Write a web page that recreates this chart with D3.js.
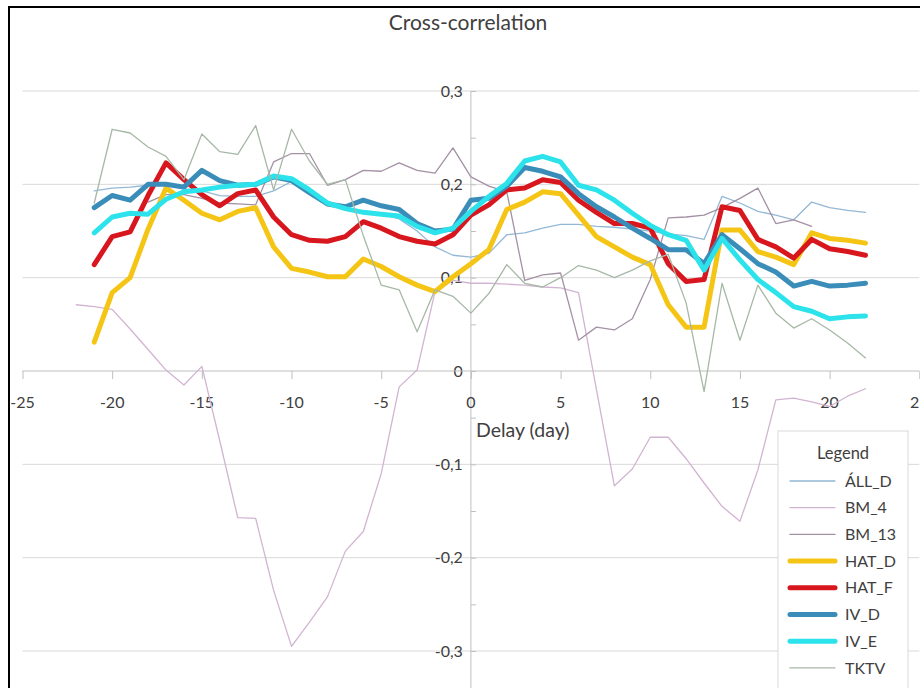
<!DOCTYPE html>
<html>
<head>
<meta charset="utf-8">
<script src="https://cdn.jsdelivr.net/npm/d3@7"></script>
<style>
  html, body { margin: 0; padding: 0; background: #fff; }
  svg text { font-family: Lato, "Open Sans", sans-serif; fill: #404040; }
</style>
</head>
<body>
<svg id="chart" width="920" height="688"></svg>
<script>
// Delay in days (x categories), -22 .. 22
const days = [-22,-21,-20,-19,-18,-17,-16,-15,-14,-13,-12,-11,-10,-9,-8,-7,-6,-5,-4,-3,-2,-1,
  0,1,2,3,4,5,6,7,8,9,10,11,12,13,14,15,16,17,18,19,20,21,22];

// Cross-correlation per series, aligned with `days` (null = no value)
const ALL_D = [null,0.193,0.196,0.197,0.199,0.200,0.195,0.193,0.188,0.187,0.187,0.193,0.203,0.195,0.180,0.175,0.170,0.168,0.163,0.150,0.133,0.124,
  0.122,0.126,0.146,0.148,0.153,0.157,0.157,0.155,0.154,0.152,0.150,0.147,0.145,0.141,0.187,0.180,0.171,0.167,0.162,0.181,0.175,0.172,0.170];
const BM_4 = [0.071,0.069,0.066,0.045,0.023,0.001,-0.015,0.005,-0.075,-0.157,-0.158,-0.235,-0.295,-0.269,-0.242,-0.193,-0.172,-0.110,-0.017,0.001,0.085,0.097,
  0.094,0.094,0.093,0.092,0.090,0.089,0.084,-0.020,-0.123,-0.105,-0.071,-0.071,-0.094,-0.120,-0.145,-0.161,-0.106,-0.031,-0.029,-0.033,-0.038,-0.027,-0.019];
const BM_13 = [null,null,null,null,0.181,0.189,0.189,0.185,0.180,0.179,0.178,0.224,0.233,0.233,0.199,0.205,0.215,0.214,0.223,0.215,0.212,0.239,
  0.208,0.198,0.192,0.097,0.103,0.105,0.033,0.047,0.044,0.056,0.098,0.164,0.165,0.167,0.175,0.185,0.196,0.158,0.162,0.155,null,null,null];
const HAT_D = [null,0.031,0.084,0.100,0.152,0.196,0.183,0.169,0.162,0.171,0.175,0.133,0.110,0.106,0.101,0.101,0.120,0.112,0.101,0.092,0.085,0.101,
  0.115,0.130,0.173,0.181,0.192,0.190,0.167,0.144,0.133,0.122,0.114,0.071,0.047,0.047,0.151,0.151,0.128,0.122,0.114,0.148,0.142,0.140,0.137];
const HAT_F = [null,0.114,0.144,0.149,0.188,0.223,0.205,0.189,0.177,0.190,0.194,0.165,0.146,0.140,0.139,0.144,0.160,0.153,0.144,0.139,0.136,0.146,
  0.167,0.178,0.194,0.196,0.205,0.202,0.183,0.170,0.158,0.158,0.153,0.115,0.096,0.098,0.176,0.172,0.141,0.133,0.121,0.141,0.131,0.128,0.124];
const IV_D = [null,0.175,0.188,0.183,0.200,0.200,0.197,0.215,0.204,0.199,0.200,0.208,0.204,0.191,0.179,0.176,0.183,0.177,0.173,0.158,0.150,0.152,
  0.183,0.185,0.198,0.218,0.214,0.208,0.190,0.176,0.165,0.153,0.142,0.130,0.130,0.115,0.146,0.131,0.115,0.106,0.091,0.096,0.091,0.092,0.094];
const IV_E = [null,0.148,0.165,0.169,0.168,0.184,0.192,0.194,0.197,0.199,0.200,0.209,0.206,0.194,0.180,0.174,0.170,0.168,0.166,0.155,0.148,0.153,
  0.171,0.187,0.201,0.225,0.230,0.224,0.199,0.194,0.183,0.169,0.156,0.146,0.140,0.108,0.142,0.119,0.098,0.084,0.069,0.064,0.056,0.058,0.059];
const TKTV = [null,0.180,0.259,0.255,0.240,0.230,0.205,0.254,0.235,0.232,0.263,0.194,0.259,0.225,0.200,0.205,0.145,0.092,0.087,0.042,0.087,0.080,
  0.062,0.083,0.114,0.094,0.090,0.100,0.113,0.108,0.100,0.108,0.118,0.125,0.073,-0.022,0.094,0.033,0.092,0.062,0.046,0.056,0.044,0.030,0.014];

const seriesNames = ["ÁLL_D","BM_4","BM_13","HAT_D","HAT_F","IV_D","IV_E","TKTV"];
const seriesValues = [ALL_D, BM_4, BM_13, HAT_D, HAT_F, IV_D, IV_E, TKTV];
const seriesColors = ["#93b8d6","#d2b4d2","#a391a4","#f5c516","#d8161d","#3a8db8","#2ce3ec","#a7b8a7"];
const seriesWidths = [1.3,1.3,1.3,5,5,5,5,1.3];

const xTicks = [-25,-20,-15,-10,-5,0,5,10,15,20,25];
const yTicks = [-0.3,-0.2,-0.1,0,0.1,0.2,0.3];
const yLabels = ["-0,3","-0,2","-0,1","0","0,1","0,2","0,3"];

const svg = d3.select("#chart");

// chart frame
svg.append("rect").attr("x", 9).attr("y", 7).attr("width", 930).attr("height", 700)
  .attr("fill", "#fff").attr("stroke", "#000").attr("stroke-width", 2);

const x = d3.scaleLinear().domain([-25, 25]).range([22.5, 919.3]);
const y = d3.scaleLinear().domain([-0.3, 0.3]).range([651, 91]);

// title
svg.append("text").attr("x", 468).attr("y", 30).attr("text-anchor", "middle")
  .style("font-size", "21px").text("Cross-correlation");

// horizontal gridlines
svg.append("g").selectAll("line").data(yTicks.filter(v => v !== 0)).join("line")
  .attr("x1", x(-25)).attr("x2", x(25))
  .attr("y1", d => y(d)).attr("y2", d => y(d))
  .attr("stroke", "#d9d9d9").attr("stroke-width", 1);

// y axis through x = 0
const yAxis = d3.axisRight(y).tickValues(d3.range(-0.35, 0.31, 0.05)).tickSize(5).tickFormat("");
const gy = svg.append("g").attr("transform", `translate(${x(0)},0)`).call(yAxis);
gy.select(".domain").remove();
gy.selectAll(".tick line").attr("stroke", "#bfbfbf");
svg.append("line").attr("x1", x(0)).attr("x2", x(0)).attr("y1", y(0.3)).attr("y2", 700)
  .attr("stroke", "#bfbfbf");
svg.append("g").selectAll("text").data(yTicks).join("text")
  .attr("x", x(0) - 8).attr("y", d => y(d)).attr("dy", "0.35em")
  .attr("text-anchor", "end").style("font-size", "16px")
  .text((d, i) => yLabels[i]);

// x axis through y = 0
const xAxis = d3.axisBottom(x).tickValues(xTicks).tickSize(8).tickFormat("");
const gx = svg.append("g").attr("transform", `translate(0,${y(0)})`).call(xAxis);
gx.select(".domain").attr("stroke", "#bfbfbf").attr("d", `M${x(-25)},0H${x(25)}`);
gx.selectAll(".tick line").attr("stroke", "#bfbfbf");
svg.append("g").selectAll("text").data(xTicks).join("text")
  .attr("x", d => x(d)).attr("y", y(0) + 31).attr("dy", "0.35em")
  .attr("text-anchor", "middle").style("font-size", "16px")
  .text(d => d);

svg.append("text").attr("x", 476).attr("y", 437).style("font-size", "19.5px").text("Delay (day)");

// series lines
const line = d3.line()
  .defined(d => d.v !== null)
  .x(d => x(d.d)).y(d => y(d.v));

const gLines = svg.append("g");
seriesValues.forEach((vals, i) => {
  const pts = days.map((d, k) => ({ d: d, v: vals[k] }));
  gLines.append("path").datum(pts)
    .attr("d", line)
    .attr("fill", "none")
    .attr("stroke", seriesColors[i])
    .attr("stroke-width", seriesWidths[i])
    .attr("stroke-linejoin", "round")
    .attr("stroke-linecap", "round");
});

// legend
const lg = svg.append("g").attr("transform", "translate(778,431)");
lg.append("rect").attr("width", 130).attr("height", 270)
  .attr("fill", "#fff").attr("stroke", "#d9d9d9");
lg.append("text").attr("x", 65).attr("y", 22).attr("dy", "0.35em")
  .attr("text-anchor", "middle").style("font-size", "16.5px").text("Legend");
const items = lg.selectAll("g.item").data(seriesNames).join("g")
  .attr("class", "item")
  .attr("transform", (d, i) => `translate(0,${50 + i * 26.7})`);
items.append("line").attr("x1", 12).attr("x2", 57).attr("y1", 0).attr("y2", 0)
  .attr("stroke", (d, i) => seriesColors[i])
  .attr("stroke-width", (d, i) => seriesWidths[i])
  .attr("stroke-linecap", "round");
items.append("text").attr("x", 67).attr("y", 0).attr("dy", "0.35em")
  .style("font-size", "16px").text(d => d);
</script>
</body>
</html>
